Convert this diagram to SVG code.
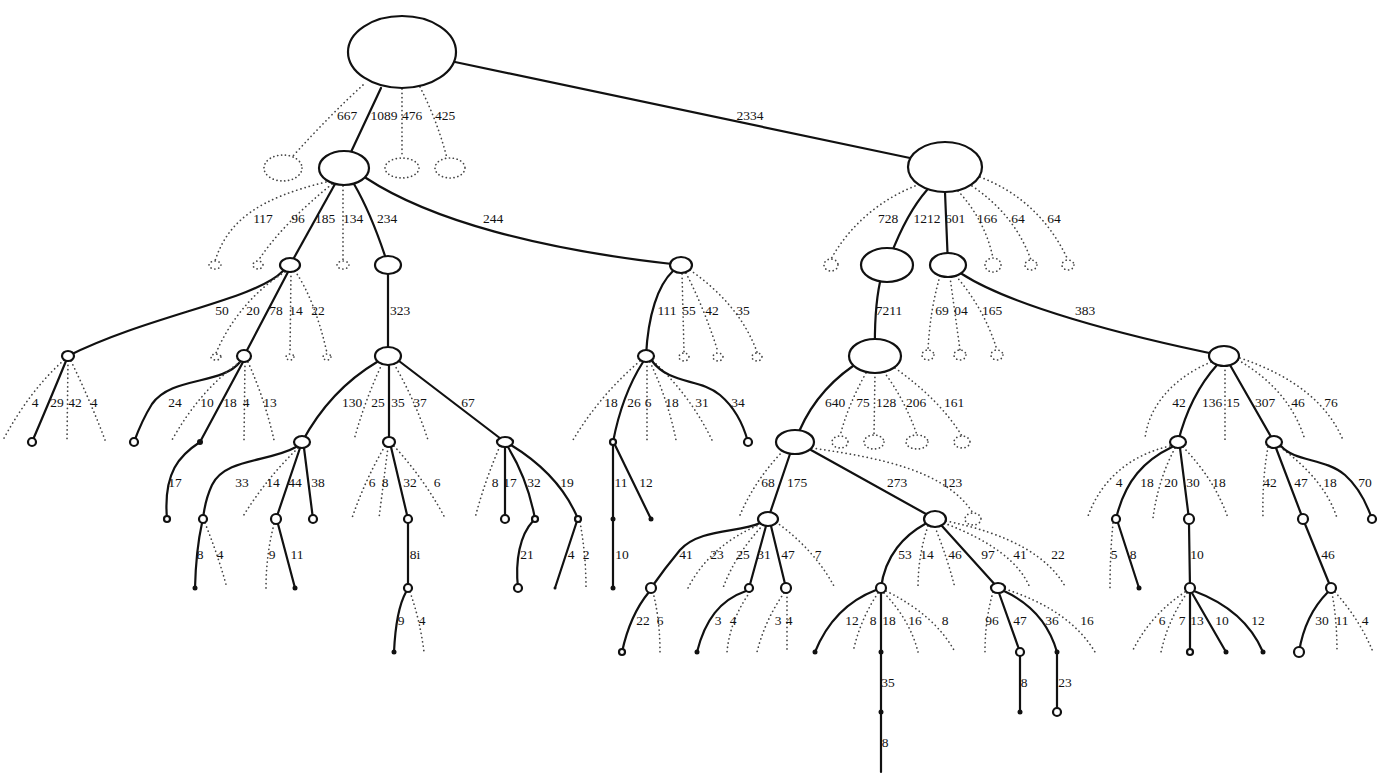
<svg xmlns="http://www.w3.org/2000/svg" width="1385" height="783" viewBox="0 0 1385 783">
<style>
.s{fill:none;stroke:#111;stroke-width:2.2;stroke-linecap:round}
.d{fill:none;stroke:#444;stroke-width:1.7;stroke-dasharray:0.1 4.2;stroke-linecap:round}
.n{fill:#fff;stroke:#111;stroke-width:2.2}
.g{fill:none;stroke:#444;stroke-width:1.7;stroke-dasharray:0.1 3.8;stroke-linecap:round}
.f{fill:#111}
text{font-family:"Liberation Serif","Times New Roman",serif;font-size:13.5px;fill:#111;text-anchor:middle}
</style>
<rect width="1385" height="783" fill="#fff"/>
<g id="connectors">
<path class="s" d="M381,88 L351,152"/>
<path class="s" d="M455,62 L910,158"/>
<path class="d" d="M363,85 Q330,115 293,156"/>
<path class="d" d="M402,89 L402,157"/>
<path class="d" d="M420,87 Q437,120 447,158"/>
<path class="d" d="M326,182 C260,198 228,220 215,261"/>
<path class="d" d="M332,184 C300,210 275,235 258,261"/>
<path class="s" d="M335,184 L290,265"/>
<path class="d" d="M343,186 L343,261"/>
<path class="s" d="M354,184 Q372,215 388,265"/>
<path class="s" d="M366,178 C430,220 540,250 681,265"/>
<path class="d" d="M915,186 C880,200 850,225 831,259"/>
<path class="s" d="M927,190 Q905,215 887,265"/>
<path class="s" d="M945,192 L948,265"/>
<path class="d" d="M958,191 Q985,220 993,258"/>
<path class="d" d="M972,186 Q1015,215 1031,260"/>
<path class="d" d="M980,177 Q1040,200 1068,260"/>
<path class="s" d="M880,282 Q874,310 875,356"/>
<path class="d" d="M940,276 Q930,310 928,350"/>
<path class="d" d="M950,277 L960,350"/>
<path class="d" d="M956,276 Q985,310 997,350"/>
<path class="s" d="M962,274 C1010,305 1120,335 1224,356"/>
<path class="s" d="M283,271 C255,300 150,315 68,356"/>
<path class="d" d="M285,272 C255,290 230,320 216,353"/>
<path class="s" d="M288,272 L244,356"/>
<path class="d" d="M291,272 L290,353"/>
<path class="d" d="M295,271 Q315,300 327,353"/>
<path class="d" d="M64,360 Q30,390 3,440"/>
<path class="s" d="M66,361 Q50,400 32,442"/>
<path class="d" d="M68,361 L67,440"/>
<path class="d" d="M71,361 Q90,400 105,440"/>
<path class="s" d="M240,362 C222,385 172,376 152,404 Q142,420 134,442"/>
<path class="d" d="M240,362 Q200,390 172,440"/>
<path class="s" d="M243,362 L200,442"/>
<path class="d" d="M245,362 L244,440"/>
<path class="d" d="M248,362 Q265,400 274,440"/>
<path class="s" d="M200,442 C180,455 163,472 167,519"/>
<path class="s" d="M388,274 L388,356"/>
<path class="s" d="M377,362 Q330,390 302,442"/>
<path class="d" d="M382,364 Q365,400 354,440"/>
<path class="s" d="M389,365 L389,442"/>
<path class="d" d="M394,364 Q415,400 428,440"/>
<path class="s" d="M399,361 L505,442"/>
<path class="s" d="M296,447 C270,462 225,458 212,485 Q205,500 203,519"/>
<path class="d" d="M298,448 Q265,480 242,518"/>
<path class="s" d="M300,448 L276,519"/>
<path class="s" d="M304,448 L313,519"/>
<path class="s" d="M202,523 Q196,550 195,588"/>
<path class="d" d="M205,523 Q218,555 227,588"/>
<path class="d" d="M274,524 Q266,555 266,588"/>
<path class="s" d="M278,524 L295,588"/>
<path class="d" d="M385,446 Q365,480 352,518"/>
<path class="d" d="M388,447 L379,518"/>
<path class="s" d="M391,447 L408,519"/>
<path class="d" d="M394,446 Q425,480 445,518"/>
<path class="s" d="M408,523 L408,588"/>
<path class="s" d="M406,592 Q396,610 394,652"/>
<path class="d" d="M410,592 Q420,620 424,652"/>
<path class="d" d="M500,446 Q485,480 475,518"/>
<path class="s" d="M505,447 L505,519"/>
<path class="s" d="M508,447 Q528,480 535,519"/>
<path class="s" d="M511,445 Q560,475 578,519"/>
<path class="s" d="M533,521 C520,535 515,560 518,588"/>
<path class="s" d="M577,521 L555,588"/>
<path class="d" d="M580,522 Q586,555 586,588"/>
<path class="s" d="M673,271 C658,285 648,315 646,356"/>
<path class="d" d="M682,274 L684,352"/>
<path class="d" d="M686,273 Q705,310 718,352"/>
<path class="d" d="M690,270 Q740,305 757,352"/>
<path class="d" d="M640,361 Q600,395 573,440"/>
<path class="s" d="M643,362 Q622,395 613,442"/>
<path class="d" d="M647,362 L647,440"/>
<path class="d" d="M650,362 Q668,400 676,440"/>
<path class="d" d="M653,361 Q690,395 712,440"/>
<path class="s" d="M652,361 C670,385 700,378 720,395 Q740,412 748,442"/>
<path class="s" d="M613,445 L613,519"/>
<path class="s" d="M615,445 L651,519"/>
<path class="s" d="M613,521 L613,588"/>
<path class="s" d="M853,366 C830,382 808,405 795,442"/>
<path class="d" d="M866,373 Q848,405 840,436"/>
<path class="d" d="M875,373 L874,435"/>
<path class="d" d="M884,372 Q905,400 917,435"/>
<path class="d" d="M895,368 Q940,400 962,436"/>
<path class="d" d="M783,451 Q755,480 740,515"/>
<path class="s" d="M790,454 L768,519"/>
<path class="s" d="M811,450 L935,519"/>
<path class="d" d="M812,448 C880,458 945,470 973,513"/>
<path class="s" d="M760,523 C740,533 700,528 680,550 Q665,568 651,588"/>
<path class="d" d="M761,524 Q710,545 688,588"/>
<path class="d" d="M763,525 Q735,555 723,588"/>
<path class="s" d="M766,526 L749,588"/>
<path class="s" d="M771,526 L786,588"/>
<path class="d" d="M776,522 Q815,550 835,588"/>
<path class="s" d="M649,592 Q630,615 622,652"/>
<path class="d" d="M653,592 Q660,620 660,652"/>
<path class="s" d="M746,591 C720,600 705,620 697,652"/>
<path class="d" d="M750,592 Q730,620 727,652"/>
<path class="d" d="M784,593 Q765,620 757,652"/>
<path class="d" d="M787,593 L787,652"/>
<path class="s" d="M925,524 C905,535 885,555 881,588"/>
<path class="d" d="M928,526 Q918,555 918,588"/>
<path class="d" d="M935,527 Q948,560 955,588"/>
<path class="s" d="M942,526 L998,588"/>
<path class="d" d="M944,523 Q1015,550 1030,588"/>
<path class="d" d="M946,521 Q1040,540 1066,588"/>
<path class="s" d="M876,590 C850,600 828,620 815,652"/>
<path class="d" d="M878,593 Q860,620 853,652"/>
<path class="s" d="M881,593 L881,772"/>
<path class="d" d="M884,593 Q910,620 918,652"/>
<path class="d" d="M886,591 Q935,615 955,652"/>
<path class="d" d="M993,592 Q985,620 985,652"/>
<path class="s" d="M999,593 L1020,652"/>
<path class="s" d="M1004,591 Q1045,610 1057,652"/>
<path class="d" d="M1005,589 Q1070,610 1095,652"/>
<path class="s" d="M1020,656 L1020,712"/>
<path class="s" d="M1057,654 L1057,712"/>
<path class="d" d="M1211,362 C1180,375 1150,400 1145,438"/>
<path class="s" d="M1217,365 Q1190,395 1178,442"/>
<path class="d" d="M1225,366 L1225,440"/>
<path class="s" d="M1230,365 L1274,442"/>
<path class="d" d="M1238,360 Q1290,390 1305,440"/>
<path class="d" d="M1240,358 Q1320,385 1343,440"/>
<path class="d" d="M1170,446 C1130,455 1100,480 1087,519"/>
<path class="s" d="M1172,447 C1145,460 1125,480 1116,519"/>
<path class="d" d="M1175,448 Q1158,480 1153,518"/>
<path class="s" d="M1180,448 L1189,519"/>
<path class="d" d="M1183,447 Q1215,480 1228,518"/>
<path class="d" d="M1113,523 Q1110,555 1110,588"/>
<path class="s" d="M1118,523 L1139,588"/>
<path class="s" d="M1189,524 L1190,588"/>
<path class="d" d="M1185,592 Q1150,615 1132,652"/>
<path class="d" d="M1187,593 Q1168,620 1161,652"/>
<path class="s" d="M1190,593 L1190,652"/>
<path class="s" d="M1192,593 L1226,652"/>
<path class="s" d="M1194,591 Q1245,610 1263,652"/>
<path class="d" d="M1268,447 Q1262,480 1263,518"/>
<path class="s" d="M1276,448 L1303,519"/>
<path class="d" d="M1280,447 Q1325,480 1337,518"/>
<path class="s" d="M1281,446 C1295,462 1325,458 1345,475 Q1362,490 1372,519"/>
<path class="s" d="M1305,524 L1331,588"/>
<path class="s" d="M1328,592 Q1305,615 1299,652"/>
<path class="d" d="M1332,593 Q1337,620 1337,652"/>
<path class="d" d="M1335,592 Q1360,620 1373,652"/>
</g>
<g id="nodes">
<g id="root"><ellipse class="n" cx="402" cy="52" rx="54" ry="36"/></g>
<g id="L1a"><ellipse class="n" cx="344" cy="168" rx="25" ry="17"/></g>
<g id="L1g1"><ellipse class="g" cx="283" cy="168" rx="19" ry="13"/></g>
<g id="L1g2"><ellipse class="g" cx="402" cy="168" rx="17" ry="10"/></g>
<g id="L1g3"><ellipse class="g" cx="450" cy="168" rx="15" ry="10"/></g>
<g id="L1b"><ellipse class="n" cx="945" cy="167" rx="37" ry="25"/></g>
<g id="L2g1"><ellipse class="g" cx="215" cy="265" rx="6" ry="4"/></g>
<g id="L2g2"><ellipse class="g" cx="258" cy="265" rx="5" ry="4"/></g>
<g id="L2a"><ellipse class="n" cx="290" cy="265" rx="10" ry="7"/></g>
<g id="L2g3"><ellipse class="g" cx="343" cy="265" rx="6" ry="4"/></g>
<g id="L2b"><ellipse class="n" cx="388" cy="265" rx="13" ry="9"/></g>
<g id="L2c"><ellipse class="n" cx="681" cy="265" rx="11" ry="8"/></g>
<g id="L2g4"><ellipse class="g" cx="831" cy="265" rx="7" ry="6"/></g>
<g id="L2d"><ellipse class="n" cx="887" cy="265" rx="26" ry="17"/></g>
<g id="L2e"><ellipse class="n" cx="948" cy="265" rx="18" ry="12"/></g>
<g id="L2g5"><ellipse class="g" cx="993" cy="265" rx="8" ry="7"/></g>
<g id="L2g6"><ellipse class="g" cx="1031" cy="265" rx="6" ry="5"/></g>
<g id="L2g7"><ellipse class="g" cx="1068" cy="265" rx="6" ry="5"/></g>
<g id="L3a1"><ellipse class="n" cx="68" cy="356" rx="6" ry="5"/></g>
<g id="L3g1"><ellipse class="g" cx="216" cy="357" rx="5" ry="3"/></g>
<g id="L3a2"><ellipse class="n" cx="244" cy="356" rx="7" ry="6"/></g>
<g id="L3g2"><ellipse class="g" cx="290" cy="357" rx="4" ry="3"/></g>
<g id="L3g3"><ellipse class="g" cx="327" cy="357" rx="4" ry="3"/></g>
<g id="L3b1"><ellipse class="n" cx="388" cy="356" rx="13" ry="9"/></g>
<g id="L3c1"><ellipse class="n" cx="646" cy="356" rx="8" ry="6"/></g>
<g id="L3g4"><ellipse class="g" cx="684" cy="357" rx="5" ry="4"/></g>
<g id="L3g5"><ellipse class="g" cx="718" cy="357" rx="5" ry="4"/></g>
<g id="L3g6"><ellipse class="g" cx="757" cy="357" rx="5" ry="4"/></g>
<g id="L3d1"><ellipse class="n" cx="875" cy="356" rx="26" ry="17"/></g>
<g id="L3g7"><ellipse class="g" cx="928" cy="355" rx="6" ry="5"/></g>
<g id="L3g8"><ellipse class="g" cx="960" cy="355" rx="6" ry="5"/></g>
<g id="L3g9"><ellipse class="g" cx="997" cy="355" rx="6" ry="5"/></g>
<g id="L3e1"><ellipse class="n" cx="1224" cy="356" rx="15" ry="10"/></g>
<g id="L4a"><circle class="n" cx="32" cy="442" r="4"/></g>
<g id="L4b"><circle class="n" cx="134" cy="442" r="4"/></g>
<g id="L4c"><circle class="f" cx="200" cy="442" r="3"/></g>
<g id="L4d"><ellipse class="n" cx="302" cy="442" rx="8" ry="6"/></g>
<g id="L4e"><ellipse class="n" cx="389" cy="442" rx="6" ry="5"/></g>
<g id="L4f"><ellipse class="n" cx="505" cy="442" rx="8" ry="5"/></g>
<g id="L4g"><circle class="n" cx="613" cy="442" r="3"/></g>
<g id="L4h"><circle class="n" cx="748" cy="442" r="4"/></g>
<g id="L4i"><ellipse class="n" cx="795" cy="442" rx="19" ry="12"/></g>
<g id="L4g1"><ellipse class="g" cx="840" cy="442" rx="8" ry="6"/></g>
<g id="L4g2"><ellipse class="g" cx="874" cy="442" rx="10" ry="7"/></g>
<g id="L4g3"><ellipse class="g" cx="917" cy="442" rx="11" ry="7"/></g>
<g id="L4g4"><ellipse class="g" cx="962" cy="442" rx="8" ry="6"/></g>
<g id="L4j"><ellipse class="n" cx="1178" cy="442" rx="8" ry="6"/></g>
<g id="L4k"><ellipse class="n" cx="1274" cy="442" rx="8" ry="6"/></g>
<g id="L5a"><circle class="n" cx="167" cy="519" r="3"/></g>
<g id="L5b"><circle class="n" cx="203" cy="519" r="4"/></g>
<g id="L5c"><circle class="n" cx="276" cy="519" r="5"/></g>
<g id="L5d"><circle class="n" cx="313" cy="519" r="4"/></g>
<g id="L5e"><circle class="n" cx="408" cy="519" r="4"/></g>
<g id="L5f"><circle class="n" cx="505" cy="519" r="4"/></g>
<g id="L5g"><circle class="n" cx="535" cy="519" r="3"/></g>
<g id="L5h"><circle class="n" cx="578" cy="519" r="3"/></g>
<g id="L5i"><circle class="f" cx="613" cy="519" r="2.5"/></g>
<g id="L5j"><circle class="f" cx="651" cy="519" r="2.5"/></g>
<g id="L5k"><ellipse class="n" cx="768" cy="519" rx="10" ry="7"/></g>
<g id="L5l"><ellipse class="n" cx="935" cy="519" rx="11" ry="8"/></g>
<g id="L5g1"><ellipse class="g" cx="973" cy="519" rx="8" ry="6"/></g>
<g id="L5m"><circle class="n" cx="1116" cy="519" r="4"/></g>
<g id="L5n"><circle class="n" cx="1189" cy="519" r="5"/></g>
<g id="L5o"><circle class="n" cx="1303" cy="519" r="5"/></g>
<g id="L5p"><circle class="n" cx="1372" cy="519" r="4"/></g>
<g id="L6a"><circle class="f" cx="195" cy="588" r="2.5"/></g>
<g id="L6b"><circle class="f" cx="295" cy="588" r="2.5"/></g>
<g id="L6c"><circle class="n" cx="408" cy="588" r="4"/></g>
<g id="L6d"><circle class="n" cx="518" cy="588" r="4"/></g>
<g id="L6e"><circle class="f" cx="555" cy="588" r="1.5"/></g>
<g id="L6f"><circle class="f" cx="613" cy="588" r="2.5"/></g>
<g id="L6g"><circle class="n" cx="651" cy="588" r="5"/></g>
<g id="L6h"><circle class="n" cx="749" cy="588" r="4"/></g>
<g id="L6i"><circle class="n" cx="786" cy="588" r="5"/></g>
<g id="L6j"><circle class="n" cx="881" cy="588" r="5"/></g>
<g id="L6k"><ellipse class="n" cx="998" cy="588" rx="7" ry="5"/></g>
<g id="L6l"><circle class="f" cx="1139" cy="588" r="2.5"/></g>
<g id="L6m"><circle class="n" cx="1190" cy="588" r="5"/></g>
<g id="L6n"><circle class="n" cx="1331" cy="588" r="5"/></g>
<g id="L7a"><circle class="f" cx="394" cy="652" r="2.5"/></g>
<g id="L7b"><circle class="n" cx="622" cy="652" r="3"/></g>
<g id="L7c"><circle class="f" cx="697" cy="652" r="2.5"/></g>
<g id="L7d"><circle class="f" cx="815" cy="652" r="2.5"/></g>
<g id="L7e"><circle class="f" cx="881" cy="652" r="2.5"/></g>
<g id="L7f"><circle class="n" cx="1020" cy="652" r="4"/></g>
<g id="L7g"><circle class="f" cx="1057" cy="652" r="2.5"/></g>
<g id="L7h"><circle class="n" cx="1190" cy="652" r="3"/></g>
<g id="L7i"><circle class="f" cx="1226" cy="652" r="2.5"/></g>
<g id="L7j"><circle class="f" cx="1263" cy="652" r="2.5"/></g>
<g id="L7k"><circle class="n" cx="1299" cy="652" r="5"/></g>
<g id="L8a"><circle class="f" cx="881" cy="712" r="2.5"/></g>
<g id="L8b"><circle class="f" cx="1020" cy="712" r="2.5"/></g>
<g id="L8c"><circle class="n" cx="1057" cy="712" r="4"/></g>
</g>
<g id="labels">
<text x="347" y="120">667</text><text x="384" y="120">1089</text><text x="412" y="120">476</text><text x="445" y="120">425</text><text x="750" y="120">2334</text>
<text x="263" y="223">117</text><text x="298" y="223">96</text><text x="325" y="223">185</text><text x="353" y="223">134</text><text x="387" y="223">234</text><text x="493" y="223">244</text>
<text x="888" y="223">728</text><text x="927" y="223">1212</text><text x="955" y="223">601</text><text x="987" y="223">166</text><text x="1018" y="223">64</text><text x="1054" y="223">64</text>
<text x="222" y="315">50</text><text x="253" y="315">20</text><text x="276" y="315">78</text><text x="296" y="315">14</text><text x="318" y="315">22</text><text x="400" y="315">323</text>
<text x="667" y="315">111</text><text x="689" y="315">55</text><text x="712" y="315">42</text><text x="743" y="315">35</text>
<text x="889" y="315">7211</text><text x="942" y="315">69</text><text x="961" y="315">04</text><text x="992" y="315">165</text><text x="1085" y="315">383</text>
<text x="35" y="407">4</text><text x="57" y="407">29</text><text x="75" y="407">42</text><text x="94" y="407">4</text>
<text x="175" y="407">24</text><text x="207" y="407">10</text><text x="230" y="407">18</text><text x="246" y="407">4</text><text x="270" y="407">13</text>
<text x="352" y="407">130</text><text x="378" y="407">25</text><text x="398" y="407">35</text><text x="420" y="407">37</text><text x="468" y="407">67</text>
<text x="611" y="407">18</text><text x="634" y="407">26</text><text x="648" y="407">6</text><text x="672" y="407">18</text><text x="702" y="407">31</text><text x="738" y="407">34</text>
<text x="835" y="407">640</text><text x="863" y="407">75</text><text x="886" y="407">128</text><text x="916" y="407">206</text><text x="954" y="407">161</text>
<text x="1179" y="407">42</text><text x="1212" y="407">136</text><text x="1233" y="407">15</text><text x="1265" y="407">307</text><text x="1298" y="407">46</text><text x="1331" y="407">76</text>
<text x="175" y="487">17</text><text x="242" y="487">33</text><text x="273" y="487">14</text><text x="295" y="487">44</text><text x="318" y="487">38</text>
<text x="372" y="487">6</text><text x="385" y="487">8</text><text x="410" y="487">32</text><text x="437" y="487">6</text>
<text x="495" y="487">8</text><text x="510" y="487">17</text><text x="534" y="487">32</text><text x="567" y="487">19</text>
<text x="621" y="487">11</text><text x="646" y="487">12</text>
<text x="768" y="487">68</text><text x="797" y="487">175</text><text x="897" y="487">273</text><text x="952" y="487">123</text>
<text x="1119" y="487">4</text><text x="1147" y="487">18</text><text x="1171" y="487">20</text><text x="1193" y="487">30</text><text x="1219" y="487">18</text>
<text x="1270" y="487">42</text><text x="1301" y="487">47</text><text x="1330" y="487">18</text><text x="1365" y="487">70</text>
<text x="200" y="559">8</text><text x="220" y="559">4</text><text x="272" y="559">9</text><text x="297" y="559">11</text><text x="415" y="559">8i</text>
<text x="527" y="559">21</text><text x="571" y="559">4</text><text x="586" y="559">2</text><text x="622" y="559">10</text>
<text x="686" y="559">41</text><text x="717" y="559">23</text><text x="743" y="559">25</text><text x="764" y="559">31</text><text x="788" y="559">47</text><text x="818" y="559">7</text>
<text x="905" y="559">53</text><text x="927" y="559">14</text><text x="955" y="559">46</text><text x="988" y="559">97</text><text x="1020" y="559">41</text><text x="1058" y="559">22</text>
<text x="1114" y="559">5</text><text x="1133" y="559">8</text><text x="1197" y="559">10</text><text x="1328" y="559">46</text>
<text x="401" y="625">9</text><text x="422" y="625">4</text><text x="643" y="625">22</text><text x="660" y="625">6</text>
<text x="718" y="625">3</text><text x="733" y="625">4</text><text x="778" y="625">3</text><text x="789" y="625">4</text>
<text x="852" y="625">12</text><text x="873" y="625">8</text><text x="889" y="625">18</text><text x="915" y="625">16</text><text x="945" y="625">8</text>
<text x="992" y="625">96</text><text x="1020" y="625">47</text><text x="1052" y="625">36</text><text x="1087" y="625">16</text>
<text x="1162" y="625">6</text><text x="1182" y="625">7</text><text x="1197" y="625">13</text><text x="1222" y="625">10</text><text x="1258" y="625">12</text>
<text x="1322" y="625">30</text><text x="1342" y="625">11</text><text x="1365" y="625">4</text>
<text x="888" y="687">35</text><text x="1024" y="687">8</text><text x="1065" y="687">23</text>
<text x="885" y="747">8</text>
</g>
</svg>
